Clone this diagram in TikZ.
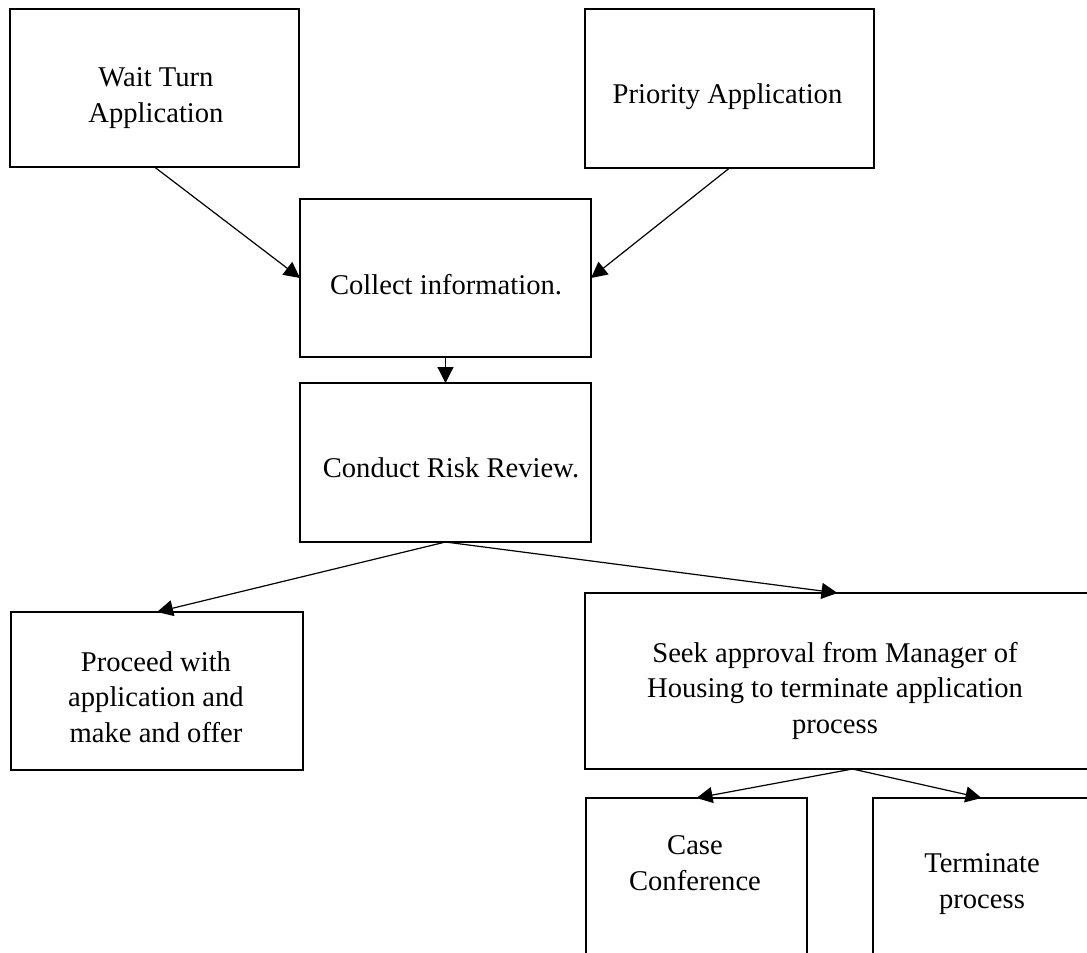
\documentclass[tikz,border=0pt]{standalone}
\usepackage{fontspec}
\setmainfont{Liberation Serif}
\usetikzlibrary{arrows.meta}
\tikzset{
  box/.style={draw=black, line width=2.6pt, rectangle, inner sep=0pt, outer sep=0pt},
  lbl/.style={anchor=base, align=center, inner sep=0pt, font=\fontsize{28.6}{35.5}\selectfont},
  conn/.style={draw=black, line width=1.2pt, -{Triangle[length=16pt,width=16pt]}}
}
\begin{document}
\begin{tikzpicture}[x=1pt,y=-1pt]
\useasboundingbox (0,0) rectangle (1087,953);
\clip (0,0) rectangle (1087,953);
% boxes
\node[box, minimum width=289, minimum height=158] (wait) at (154.5,88) {};
\node[box, minimum width=289, minimum height=159] (prio) at (729.5,88.5) {};
\node[box, minimum width=291, minimum height=158] (collect) at (445.5,278) {};
\node[box, minimum width=291, minimum height=159] (risk) at (445.5,462.5) {};
\node[box, minimum width=292, minimum height=158] (proceed) at (157,691) {};
\node[box, minimum width=505, minimum height=176] (seek) at (837.5,681) {};
\node[box, minimum width=221, minimum height=182] (case) at (696.5,889) {};
\node[box, minimum width=217, minimum height=182] (term) at (981.5,889) {};
% labels (base anchor = baseline of the last line)
\node[lbl] (waitt) at (156,122) {Wait Turn\\Application};
\node[lbl] (priot) at (727.5,103) {Priority Application};
\node[lbl] (collectt) at (446,294) {Collect information.};
\node[lbl] (riskt) at (451,477) {Conduct Risk Review.};
\node[lbl] (proceedt) at (156,742) {Proceed with\\application and\\make and offer};
\node[lbl] (seekt) at (835,733) {Seek approval from Manager of\\Housing to terminate application\\process};
\node[lbl] (caset) at (695,890) {Case\\Conference};
\node[lbl] (termt) at (982,908) {Terminate\\process};
% connectors
\coordinate (split) at ([xshift=15pt]seek.south);
\draw[conn] (wait.south) -- (collect.west);
\draw[conn] (prio.south) -- (collect.east);
\draw[conn] (collect.south) -- (risk.north);
\draw[conn] (risk.south) -- (proceed.north);
\draw[conn] (risk.south) -- (seek.north);
\draw[conn] (split) -- (case.north);
\draw[conn] (split) -- (term.north);
\end{tikzpicture}
\end{document}
